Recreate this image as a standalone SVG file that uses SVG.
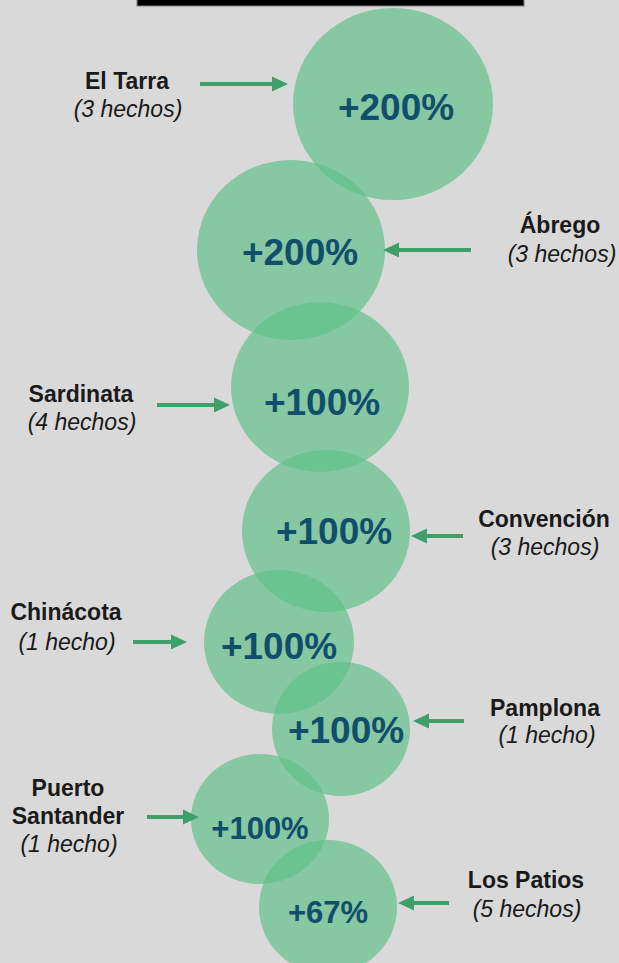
<svg xmlns="http://www.w3.org/2000/svg" width="619" height="963" viewBox="0 0 619 963">
<defs>
<style>
.bg{fill:#d9d9d9}
.bub{fill:rgb(96,192,136);fill-opacity:0.69}
.pct{font-family:"Liberation Sans",Arial,sans-serif;font-weight:bold;fill:#114e6c;text-anchor:middle}
.nm{font-family:"Liberation Sans",Arial,sans-serif;font-weight:bold;font-size:23px;fill:#1a1a1a;text-anchor:middle}
.ct{font-family:"Liberation Sans",Arial,sans-serif;font-style:italic;font-size:23px;fill:#1a1a1a;text-anchor:middle}
.arr{stroke:#3f9f68;stroke-width:4;fill:none}
</style>
<marker id="ah" markerUnits="userSpaceOnUse" markerWidth="16" markerHeight="16" refX="0" refY="7.5" orient="auto" overflow="visible">
<path d="M0,0 L16,7.5 L0,15 z" fill="#3f9f68"/>
</marker>
</defs>
<rect class="bg" x="0" y="0" width="619" height="963"/>
<rect x="137" y="-2" width="387" height="8" fill="#000" stroke="#808080" stroke-width="1"/>

<g id="n-eltarra">
<ellipse class="bub" cx="393" cy="104" rx="100" ry="96"/>
<text class="pct" x="396" y="120" font-size="37">+200%</text>
<text class="nm" x="127" y="89">El Tarra</text>
<text class="ct" x="128" y="117">(3 hechos)</text>
</g>
<g id="n-abrego">
<ellipse class="bub" cx="291" cy="250" rx="94" ry="90"/>
<text class="pct" x="300" y="265" font-size="37">+200%</text>
<text class="nm" x="560" y="233">Ábrego</text>
<text class="ct" x="562" y="262">(3 hechos)</text>
</g>
<g id="n-sardinata">
<ellipse class="bub" cx="320" cy="387" rx="89" ry="85"/>
<text class="pct" x="322" y="415" font-size="37">+100%</text>
<text class="nm" x="81" y="402">Sardinata</text>
<text class="ct" x="82" y="430">(4 hechos)</text>
</g>
<g id="n-convencion">
<ellipse class="bub" cx="326" cy="531" rx="84" ry="81"/>
<text class="pct" x="334" y="544" font-size="37">+100%</text>
<text class="nm" x="544" y="527">Convención</text>
<text class="ct" x="545" y="555">(3 hechos)</text>
</g>
<g id="n-chinacota">
<ellipse class="bub" cx="279" cy="642" rx="75" ry="72"/>
<text class="pct" x="279" y="659" font-size="37">+100%</text>
<text class="nm" x="66" y="620">Chinácota</text>
<text class="ct" x="67" y="650">(1 hecho)</text>
</g>
<g id="n-pamplona">
<ellipse class="bub" cx="341" cy="729" rx="69" ry="67"/>
<text class="pct" x="346" y="743" font-size="37">+100%</text>
<text class="nm" x="545" y="716">Pamplona</text>
<text class="ct" x="547" y="743">(1 hecho)</text>
</g>
<g id="n-puertosantander">
<ellipse class="bub" cx="260" cy="819" rx="69" ry="65"/>
<text class="pct" x="260" y="839" font-size="31">+100%</text>
<text class="nm" x="68" y="796">Puerto</text>
<text class="nm" x="68" y="824">Santander</text>
<text class="ct" x="69" y="852">(1 hecho)</text>
</g>
<g id="n-lospatios">
<ellipse class="bub" cx="328" cy="907" rx="69" ry="67"/>
<text class="pct" x="328" y="923" font-size="31">+67%</text>
<text class="nm" x="526" y="888">Los Patios</text>
<text class="ct" x="527" y="917">(5 hechos)</text>
</g>

<g id="connectors">
<line class="arr" x1="200" y1="84" x2="272" y2="84" marker-end="url(#ah)"/>
<line class="arr" x1="471" y1="250" x2="399" y2="250" marker-end="url(#ah)"/>
<line class="arr" x1="157" y1="405" x2="214" y2="405" marker-end="url(#ah)"/>
<line class="arr" x1="463" y1="536" x2="427" y2="536" marker-end="url(#ah)"/>
<line class="arr" x1="133" y1="642" x2="171" y2="642" marker-end="url(#ah)"/>
<line class="arr" x1="464" y1="721" x2="429" y2="721" marker-end="url(#ah)"/>
<line class="arr" x1="147" y1="817" x2="183" y2="817" marker-end="url(#ah)"/>
<line class="arr" x1="449" y1="903" x2="414" y2="903" marker-end="url(#ah)"/>
</g>
</svg>
